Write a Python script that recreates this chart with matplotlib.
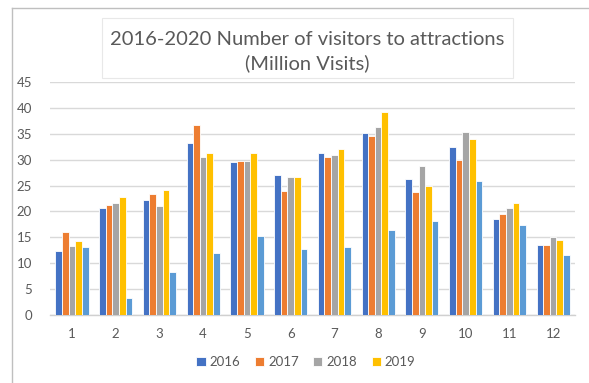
import matplotlib
matplotlib.use("Agg")
import matplotlib.pyplot as plt
import numpy as np
from matplotlib.patches import Rectangle
from matplotlib.lines import Line2D

months = ["1", "2", "3", "4", "5", "6", "7", "8", "9", "10", "11", "12"]
series_names = ["2016", "2017", "2018", "2019", "2020"]
v2016 = [12.4, 20.7, 22.3, 33.3, 29.5, 27.0, 31.3, 35.2, 26.2, 32.5, 18.6, 13.5]
v2017 = [16.0, 21.2, 23.3, 36.7, 29.8, 24.0, 30.6, 34.5, 23.7, 29.9, 19.6, 13.5]
v2018 = [13.3, 21.6, 21.1, 30.6, 29.8, 26.6, 30.9, 36.3, 28.8, 35.4, 20.7, 15.0]
v2019 = [14.3, 22.7, 24.1, 31.2, 31.3, 26.6, 32.1, 39.2, 24.9, 34.0, 21.6, 14.4]
v2020 = [13.2, 3.3, 8.3, 11.9, 15.3, 12.8, 13.1, 16.4, 18.2, 25.8, 17.4, 11.5]
colors = ["#4472C4", "#ED7D31", "#A5A5A5", "#FFC000", "#5B9BD5"]
yticks = [0, 5, 10, 15, 20, 25, 30, 35, 40, 45]
title = "2016-2020 Number of visitors to attractions\n(Million Visits)"

W, H = 589, 383
fig = plt.figure(figsize=(W / 100, H / 100), dpi=100)
fig.patch.set_facecolor("white")

def fx(px):
    return px / W

def fy(py):
    return 1 - py / H

# outer chart frame (top and left edges visible)
fig.add_artist(Line2D([fx(11.5), fx(11.5)], [fy(8), 0], transform=fig.transFigure,
                      color="#BFBFBF", linewidth=1.0))
fig.add_artist(Line2D([fx(11.5), 1], [fy(8), fy(8)], transform=fig.transFigure,
                      color="#BFBFBF", linewidth=1.0))

# title box
fig.add_artist(Rectangle((fx(102), fy(78)), fx(513) - fx(102), fy(18) - fy(78),
                         transform=fig.transFigure, fill=True, facecolor="white",
                         edgecolor="#E8E8E8", linewidth=0.8))

ax = fig.add_axes([fx(50), fy(315), 525 / W, 233 / H])
data = [v2016, v2017, v2018, v2019, v2020]
x = np.arange(len(months))
step = 0.152
handles = []
for i, (vals, c, name) in enumerate(zip(data, colors, series_names)):
    b = ax.bar(x + (i - 2) * step, vals, width=step, color=c, edgecolor="white",
               linewidth=0.6, label=name, zorder=3)
    handles.append(b)

ax.set_xlim(-0.5, len(months) - 0.5)
ax.set_ylim(0, 45)
ax.set_yticks(yticks)
ax.set_xticks(x)
ax.set_xticklabels(months)
ax.yaxis.grid(True, color="#D9D9D9", linewidth=1.0, zorder=0)
for s in ["top", "right", "left"]:
    ax.spines[s].set_visible(False)
ax.spines["bottom"].set_color("#D0D0D0")
ax.spines["bottom"].set_linewidth(1.0)
ax.tick_params(axis="both", length=0, labelcolor="#595959", labelsize=9.5)
ax.tick_params(axis="y", pad=13)
ax.tick_params(axis="x", pad=9)
for lab in ax.get_xticklabels() + ax.get_yticklabels():
    lab.set_family("Lato")

leg = fig.legend(handles[:4], series_names[:4], loc="center", bbox_to_anchor=(fx(306), fy(362)),
                 ncol=4, frameon=False, handlelength=0.7, handleheight=0.7,
                 handletextpad=0.3, columnspacing=1.1, prop={"family": "Lato", "size": 9.5})
for t in leg.get_texts():
    t.set_color("#595959")

fig.text(fx(307), fy(52), title, ha="center", va="center", fontsize=14.5,
         family="Lato", color="#595959", linespacing=1.42)

fig.savefig("out.png", dpi=100)
